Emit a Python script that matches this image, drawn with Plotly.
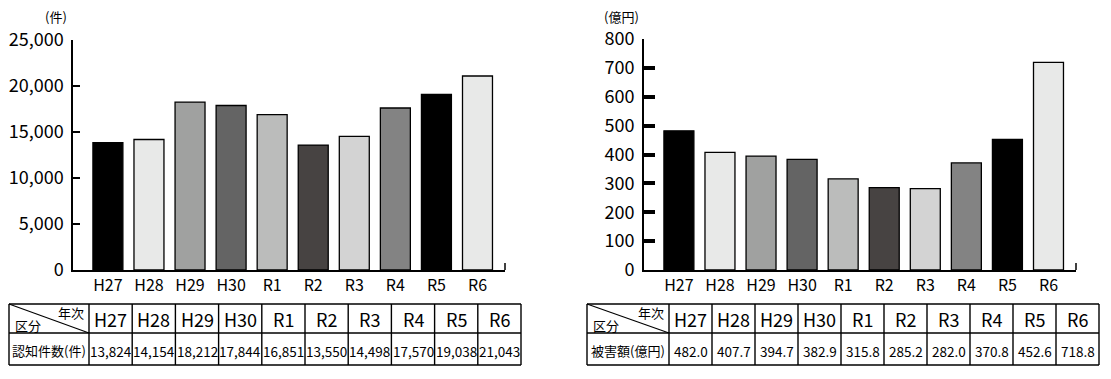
import plotly.graph_objects as go

# ---------------- data ----------------
years = ["H27", "H28", "H29", "H30", "R1", "R2", "R3", "R4", "R5", "R6"]
cases = [13824, 14154, 18212, 17844, 16851, 13550, 14498, 17570, 19038, 21043]
damage = [482.0, 407.7, 394.7, 382.9, 315.8, 285.2, 282.0, 370.8, 452.6, 718.8]
bar_colors = ["#000000", "#e8e9e8", "#a0a1a0", "#646464", "#bbbcbb",
              "#474342", "#d3d3d3", "#838383", "#000000", "#e8e9e8"]
case_ticks = [0, 5000, 10000, 15000, 20000, 25000]
damage_ticks = [0, 100, 200, 300, 400, 500, 600, 700, 800]
case_unit = "(件)"
damage_unit = "(億円)"
case_row_label = "認知件数(件)"
damage_row_label = "被害額(億円)"
corner_top = "年次"
corner_bottom = "区分"

W, H = 1111, 379
FONT = "Noto Sans CJK JP, Noto Sans, sans-serif"


def px(x):
    return x / W


def py(y):
    return 1 - y / H


fig = go.Figure()
fig.add_trace(go.Bar(x=years, y=cases, marker=dict(color=bar_colors, line=dict(color="black", width=1.3)),
                     xaxis="x", yaxis="y", showlegend=False, hoverinfo="x+y"))
fig.add_trace(go.Bar(x=years, y=damage, marker=dict(color=bar_colors, line=dict(color="black", width=1.3)),
                     xaxis="x2", yaxis="y2", showlegend=False, hoverinfo="x+y"))

xr = [-0.85, 9.67]
common_x = dict(range=xr, showline=True, linecolor="black", linewidth=1.5, ticks="",
                showgrid=False, zeroline=False, automargin=False,
                tickfont=dict(family=FONT, size=16, color="black"), fixedrange=True)

fig.update_layout(
    width=W, height=H, margin=dict(l=0, r=0, t=0, b=0, pad=0, autoexpand=False), autosize=False,
    paper_bgcolor="white", plot_bgcolor="white", bargap=0.27, showlegend=False,
    font=dict(family=FONT, color="black"),
    xaxis=dict(domain=[px(73), px(505)], anchor="y", **common_x),
    yaxis=dict(domain=[py(270), py(39.5)], anchor="x", range=[0, 25000],
               tickvals=case_ticks, ticktext=[f"{v:,}" for v in case_ticks],
               ticks="inside", ticklen=7, tickwidth=1.5, tickcolor="black",
               showline=True, linecolor="black", linewidth=1.5, showgrid=False, zeroline=False,
               automargin=False, ticklabelstandoff=4,
               tickfont=dict(family=FONT, size=18, color="black"), fixedrange=True),
    xaxis2=dict(domain=[px(644), px(1076)], anchor="y2", **common_x),
    yaxis2=dict(domain=[py(270), py(39)], anchor="x2", range=[0, 800],
                tickvals=damage_ticks, ticktext=[str(v) for v in damage_ticks],
                ticks="inside", ticklen=11, tickwidth=3.5, tickcolor="black",
                showline=True, linecolor="black", linewidth=2, showgrid=False, zeroline=False,
                automargin=False, ticklabelstandoff=4,
                tickfont=dict(family=FONT, size=18, color="black"), fixedrange=True),
)

shapes = []
annotations = []


def note(text, x, y, size, xanchor="center"):
    annotations.append(dict(text=text, x=px(x), y=py(y), xref="paper", yref="paper",
                            xanchor=xanchor, yanchor="middle", showarrow=False,
                            font=dict(family=FONT, size=size, color="black")))


# end ticks on x axes
for xa, ya in (("x", "y"), ("x2", "y2")):
    shapes.append(dict(type="line", xref=f"{xa} domain", yref=f"{ya} domain",
                       x0=1, x1=1, y0=0, y1=7 / 231, line=dict(color="black", width=1.5)))

# unit labels
note(case_unit, 56, 17, 13)
note(damage_unit, 621, 17, 13)


def add_table(x_left, x_first, x_right, row_label, values):
    top, mid, bot = 304, 333, 365
    n = len(years)
    cw = (x_right - x_first) / n
    edges = [x_left, x_first] + [x_first + cw * (i + 1) for i in range(n)]
    lw = 1.4
    for y in (top, mid, bot):
        shapes.append(dict(type="line", xref="paper", yref="paper", x0=px(x_left), x1=px(x_right),
                           y0=py(y), y1=py(y), line=dict(color="black", width=lw)))
    for x in edges:
        shapes.append(dict(type="line", xref="paper", yref="paper", x0=px(x), x1=px(x),
                           y0=py(top), y1=py(bot), line=dict(color="black", width=lw)))
    # diagonal
    shapes.append(dict(type="line", xref="paper", yref="paper", x0=px(x_left), x1=px(x_first),
                       y0=py(top), y1=py(mid), line=dict(color="black", width=1.2)))
    note(corner_top, x_first - 3, 312, 13, xanchor="right")
    note(corner_bottom, x_left + 4, 325, 13, xanchor="left")
    note(row_label, (x_left + x_first) / 2, 350, 13)
    for i in range(n):
        cx = (edges[i + 1] + edges[i + 2]) / 2
        note(years[i], cx, 319, 18)
        note(values[i], cx, 351, 13.5)


add_table(9, 89, 521, case_row_label, [f"{v:,}" for v in cases])
add_table(587, 669, 1099, damage_row_label, [f"{v:.1f}" for v in damage])

fig.update_layout(shapes=shapes, annotations=annotations)
fig.write_html("out.html", config={"displayModeBar": False},
               post_script="document.body.style.margin='0';")
